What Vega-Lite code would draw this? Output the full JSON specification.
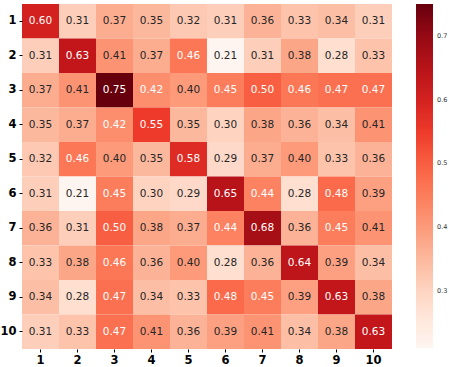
{
  "$schema": "https://vega.github.io/schema/vega-lite/v6.json",
  "width": 370,
  "height": 345,
  "autosize": {"type": "none"},
  "padding": {"left": 22, "top": 4, "right": 57, "bottom": 18},
  "background": "white",
  "config": {"view": {"stroke": null}, "font": "DejaVu Sans"},
  "datasets": {
    "m": [
      {"row":1,"col":1,"value":0.60},{"row":1,"col":2,"value":0.31},{"row":1,"col":3,"value":0.37},{"row":1,"col":4,"value":0.35},{"row":1,"col":5,"value":0.32},{"row":1,"col":6,"value":0.31},{"row":1,"col":7,"value":0.36},{"row":1,"col":8,"value":0.33},{"row":1,"col":9,"value":0.34},{"row":1,"col":10,"value":0.31},
      {"row":2,"col":1,"value":0.31},{"row":2,"col":2,"value":0.63},{"row":2,"col":3,"value":0.41},{"row":2,"col":4,"value":0.37},{"row":2,"col":5,"value":0.46},{"row":2,"col":6,"value":0.21},{"row":2,"col":7,"value":0.31},{"row":2,"col":8,"value":0.38},{"row":2,"col":9,"value":0.28},{"row":2,"col":10,"value":0.33},
      {"row":3,"col":1,"value":0.37},{"row":3,"col":2,"value":0.41},{"row":3,"col":3,"value":0.75},{"row":3,"col":4,"value":0.42},{"row":3,"col":5,"value":0.40},{"row":3,"col":6,"value":0.45},{"row":3,"col":7,"value":0.50},{"row":3,"col":8,"value":0.46},{"row":3,"col":9,"value":0.47},{"row":3,"col":10,"value":0.47},
      {"row":4,"col":1,"value":0.35},{"row":4,"col":2,"value":0.37},{"row":4,"col":3,"value":0.42},{"row":4,"col":4,"value":0.55},{"row":4,"col":5,"value":0.35},{"row":4,"col":6,"value":0.30},{"row":4,"col":7,"value":0.38},{"row":4,"col":8,"value":0.36},{"row":4,"col":9,"value":0.34},{"row":4,"col":10,"value":0.41},
      {"row":5,"col":1,"value":0.32},{"row":5,"col":2,"value":0.46},{"row":5,"col":3,"value":0.40},{"row":5,"col":4,"value":0.35},{"row":5,"col":5,"value":0.58},{"row":5,"col":6,"value":0.29},{"row":5,"col":7,"value":0.37},{"row":5,"col":8,"value":0.40},{"row":5,"col":9,"value":0.33},{"row":5,"col":10,"value":0.36},
      {"row":6,"col":1,"value":0.31},{"row":6,"col":2,"value":0.21},{"row":6,"col":3,"value":0.45},{"row":6,"col":4,"value":0.30},{"row":6,"col":5,"value":0.29},{"row":6,"col":6,"value":0.65},{"row":6,"col":7,"value":0.44},{"row":6,"col":8,"value":0.28},{"row":6,"col":9,"value":0.48},{"row":6,"col":10,"value":0.39},
      {"row":7,"col":1,"value":0.36},{"row":7,"col":2,"value":0.31},{"row":7,"col":3,"value":0.50},{"row":7,"col":4,"value":0.38},{"row":7,"col":5,"value":0.37},{"row":7,"col":6,"value":0.44},{"row":7,"col":7,"value":0.68},{"row":7,"col":8,"value":0.36},{"row":7,"col":9,"value":0.45},{"row":7,"col":10,"value":0.41},
      {"row":8,"col":1,"value":0.33},{"row":8,"col":2,"value":0.38},{"row":8,"col":3,"value":0.46},{"row":8,"col":4,"value":0.36},{"row":8,"col":5,"value":0.40},{"row":8,"col":6,"value":0.28},{"row":8,"col":7,"value":0.36},{"row":8,"col":8,"value":0.64},{"row":8,"col":9,"value":0.39},{"row":8,"col":10,"value":0.34},
      {"row":9,"col":1,"value":0.34},{"row":9,"col":2,"value":0.28},{"row":9,"col":3,"value":0.47},{"row":9,"col":4,"value":0.34},{"row":9,"col":5,"value":0.33},{"row":9,"col":6,"value":0.48},{"row":9,"col":7,"value":0.45},{"row":9,"col":8,"value":0.39},{"row":9,"col":9,"value":0.63},{"row":9,"col":10,"value":0.38},
      {"row":10,"col":1,"value":0.31},{"row":10,"col":2,"value":0.33},{"row":10,"col":3,"value":0.47},{"row":10,"col":4,"value":0.41},{"row":10,"col":5,"value":0.36},{"row":10,"col":6,"value":0.39},{"row":10,"col":7,"value":0.41},{"row":10,"col":8,"value":0.34},{"row":10,"col":9,"value":0.38},{"row":10,"col":10,"value":0.63}
    ]
  },
  "data": {"name": "m"},
  "encoding": {
    "x": {"field": "col", "type": "ordinal", "scale": {"paddingInner": 0, "paddingOuter": 0},
      "axis": {"title": null, "labelAngle": 0, "labelFontWeight": "bold", "labelFontSize": 11.5, "labelColor": "black", "domain": false, "tickSize": 3, "tickColor": "black", "labelPadding": 2}},
    "y": {"field": "row", "type": "ordinal", "scale": {"paddingInner": 0, "paddingOuter": 0},
      "axis": {"title": null, "labelFontWeight": "bold", "labelFontSize": 11.5, "labelColor": "black", "domain": false, "tickSize": 3, "tickColor": "black", "labelPadding": 3}}
  },
  "layer": [
    {
      "mark": {"type": "rect"},
      "encoding": {
        "color": {"field": "value", "type": "quantitative",
          "scale": {"domain": [0.21, 0.2775, 0.345, 0.4125, 0.48, 0.5475, 0.615, 0.6825, 0.75],
                    "range": ["#fff5f0", "#fee0d2", "#fcbba1", "#fc9272", "#fb6a4a", "#ef3b2c", "#cb181d", "#a50f15", "#67000d"]},
          "legend": {"title": null, "orient": "right", "direction": "vertical", "gradientLength": 344, "gradientThickness": 17,
            "offset": 24, "padding": 0, "values": [0.3, 0.4, 0.5, 0.6, 0.7], "format": ".1f", "labelFontSize": 6.5, "labelColor": "#333", "labelOffset": 4, "gradientStrokeWidth": 0}}
      }
    },
    {
      "mark": {"type": "text", "fontSize": 10.5},
      "encoding": {
        "text": {"field": "value", "type": "quantitative", "format": ".2f"},
        "color": {"condition": {"test": "datum.value > 0.415", "value": "white"}, "value": "#262626"}
      }
    }
  ]
}
